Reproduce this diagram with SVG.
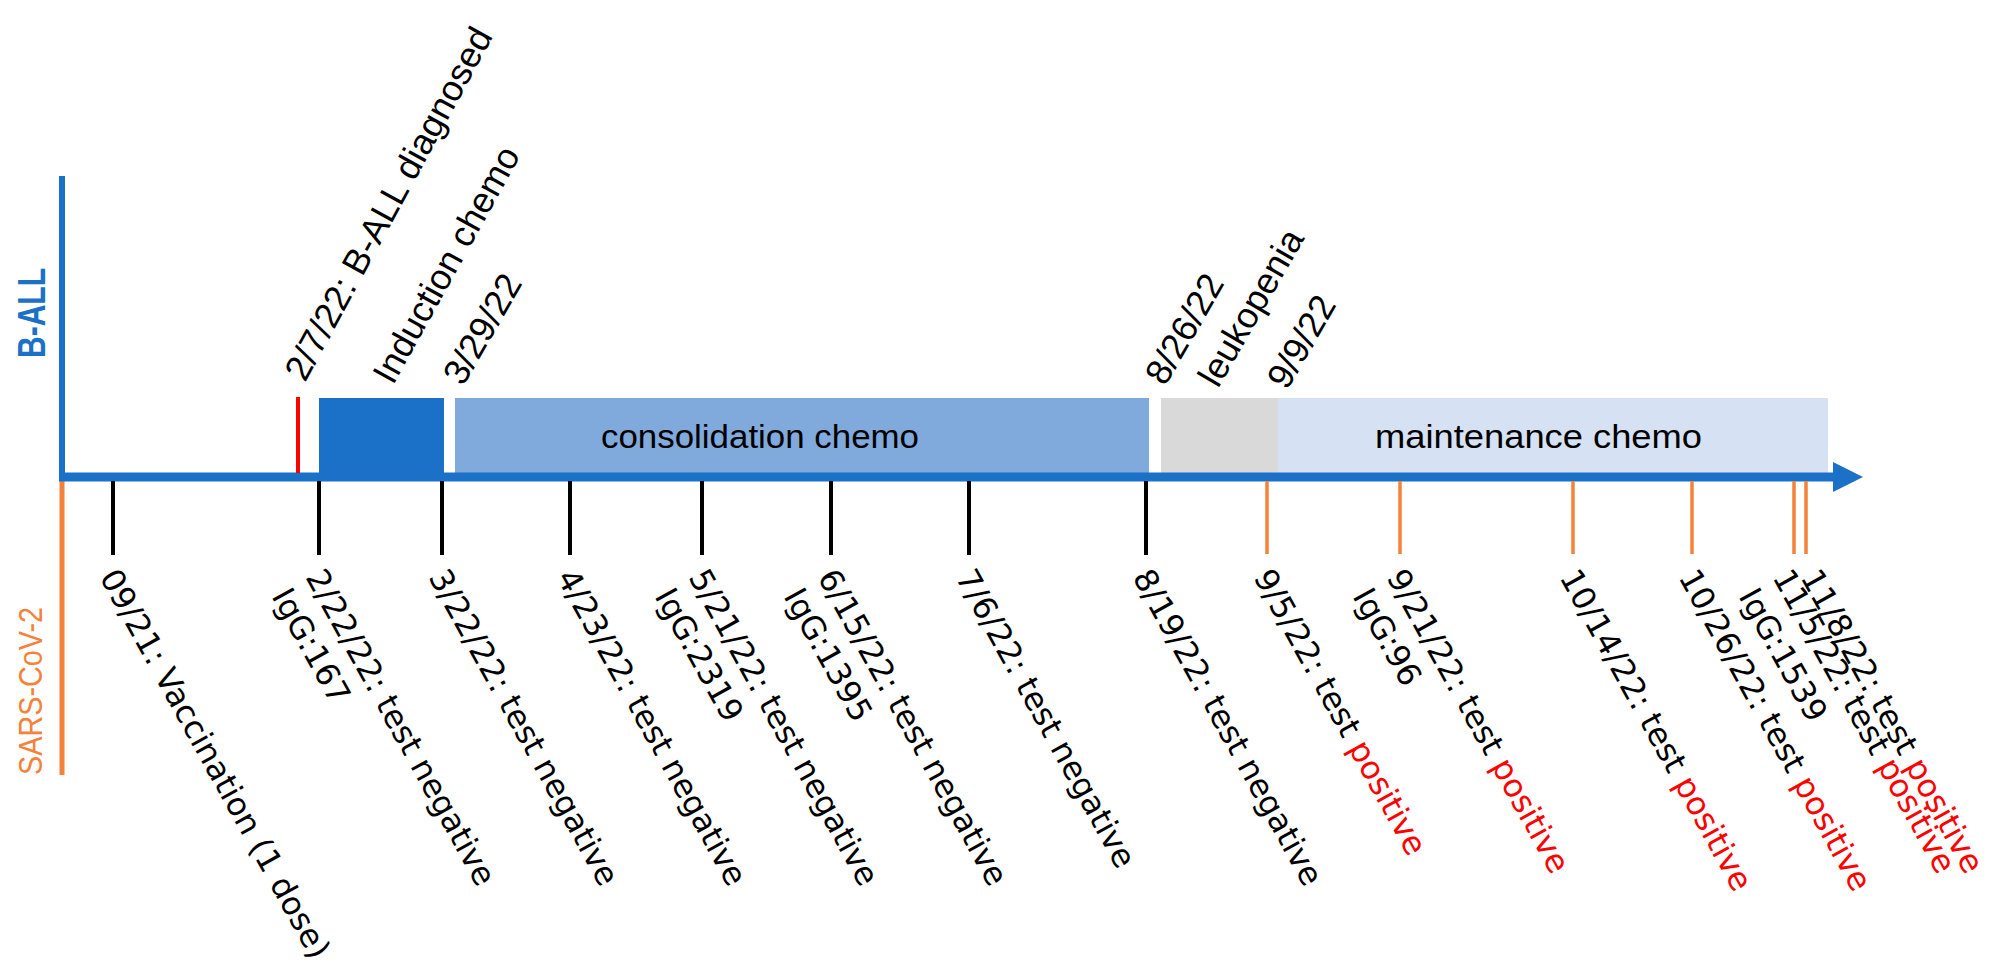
<svg xmlns="http://www.w3.org/2000/svg" width="1992" height="976" viewBox="0 0 1992 976">
<style>
.lo{font-family:"DejaVu Sans",Verdana,sans-serif;font-size:32px;fill:#000}
.pos{fill:#ff0000}
.up{font-family:"Liberation Sans",Arial,sans-serif;font-size:36px;fill:#000}
.bx{font-family:"Liberation Sans",Arial,sans-serif;font-size:34px;fill:#000}
.tk{stroke:#000;stroke-width:4}
.to{stroke:#f4823a;stroke-width:3.5}
</style>
<rect width="1992" height="976" fill="#fff"/>
<!-- phase boxes -->
<g id="induction"><rect x="319" y="398" width="125" height="79" fill="#1a71c7"/></g>
<g id="consolidation"><rect x="455" y="398" width="694" height="79" fill="#80a9dc"/>
<text class="bx" x="601" y="448" textLength="318" lengthAdjust="spacingAndGlyphs">consolidation chemo</text></g>
<g id="leukopenia-box"><rect x="1161" y="398" width="117" height="79" fill="#d9d9d9"/></g>
<g id="maintenance"><rect x="1278" y="398" width="550" height="79" fill="#d6e2f4"/>
<text class="bx" x="1375" y="448" textLength="327" lengthAdjust="spacingAndGlyphs">maintenance chemo</text></g>
<!-- axes -->
<g id="axes">
<line x1="62" y1="176" x2="62" y2="479" stroke="#1a71c7" stroke-width="6"/>
<line x1="62" y1="479" x2="62" y2="775" stroke="#f4823a" stroke-width="5"/>
<line x1="59" y1="477" x2="1836" y2="477" stroke="#1a71c7" stroke-width="9"/>
<polygon points="1833,462 1863,477 1833,492" fill="#1a71c7"/>
<line x1="298" y1="397" x2="298" y2="473" stroke="#ff0000" stroke-width="4"/>
</g>
<g id="axis-labels">
<text transform="translate(45,358) rotate(-90)" font-family="Liberation Sans,Arial,sans-serif" font-weight="bold" font-size="38" fill="#1a71c7" textLength="90" lengthAdjust="spacingAndGlyphs">B-ALL</text>
<text transform="translate(42,775) rotate(-90)" font-family="Liberation Sans,Arial,sans-serif" font-size="34" fill="#f4823a" textLength="168" lengthAdjust="spacingAndGlyphs">SARS-CoV-2</text>
</g>
<!-- tick connectors -->
<g id="ticks">
<line class="tk" x1="113" y1="481" x2="113" y2="555"/>
<line class="tk" x1="319" y1="481" x2="319" y2="555"/>
<line class="tk" x1="442" y1="481" x2="442" y2="555"/>
<line class="tk" x1="570" y1="481" x2="570" y2="555"/>
<line class="tk" x1="702" y1="481" x2="702" y2="555"/>
<line class="tk" x1="831" y1="481" x2="831" y2="555"/>
<line class="tk" x1="969" y1="481" x2="969" y2="555"/>
<line class="tk" x1="1146" y1="481" x2="1146" y2="555"/>
<line class="to" x1="1267" y1="481" x2="1267" y2="554"/>
<line class="to" x1="1400" y1="481" x2="1400" y2="554"/>
<line class="to" x1="1573" y1="481" x2="1573" y2="554"/>
<line class="to" x1="1692" y1="481" x2="1692" y2="554"/>
<line class="to" x1="1794" y1="481" x2="1794" y2="554"/>
<line class="to" x1="1806" y1="481" x2="1806" y2="554"/>
</g>
<!-- upper labels -->
<g id="upper-labels">
<text class="up" transform="translate(305,383) rotate(-61.5)">2/7/22: B-ALL diagnosed</text>
<text class="up" transform="translate(393,386) rotate(-61)">Induction chemo</text>
<text class="up" transform="translate(463,387) rotate(-60)">3/29/22</text>
<text class="up" transform="translate(1165,387) rotate(-60)">8/26/22</text>
<text class="up" transform="translate(1218,389) rotate(-60)">leukopenia</text>
<text class="up" transform="translate(1287,391) rotate(-60)">9/9/22</text>
</g>
<!-- lower labels -->
<g id="ev-0921" transform="translate(99,577) rotate(61)"><text class="lo">09/21: Vaccination (1 dose)</text></g>
<g id="ev-0222" transform="translate(305,577) rotate(61)"><text class="lo">2/22/22: test negative</text><text class="lo" y="39">IgG:167</text></g>
<g id="ev-0322" transform="translate(428,577) rotate(61)"><text class="lo">3/22/22: test negative</text></g>
<g id="ev-0423" transform="translate(556,577) rotate(61)"><text class="lo">4/23/22: test negative</text></g>
<g id="ev-0521" transform="translate(688,577) rotate(61)"><text class="lo">5/21/22: test negative</text><text class="lo" y="39">IgG:2319</text></g>
<g id="ev-0615" transform="translate(817,577) rotate(61)"><text class="lo">6/15/22: test negative</text><text class="lo" y="39">IgG:1395</text></g>
<g id="ev-0706" transform="translate(955,577) rotate(61)"><text class="lo">7/6/22: test negative</text></g>
<g id="ev-0819" transform="translate(1132,577) rotate(61)"><text class="lo">8/19/22: test negative</text></g>
<g id="ev-0905" transform="translate(1253,577) rotate(61)"><text class="lo">9/5/22: test <tspan class="pos">positive</tspan></text></g>
<g id="ev-0921b" transform="translate(1386,577) rotate(61)"><text class="lo">9/21/22: test <tspan class="pos">positive</tspan></text><text class="lo" y="39">IgG:96</text></g>
<g id="ev-1014" transform="translate(1559,577) rotate(61)"><text class="lo">10/14/22: test <tspan class="pos">positive</tspan></text></g>
<g id="ev-1026" transform="translate(1678,577) rotate(61)"><text class="lo">10/26/22: test <tspan class="pos">positive</tspan></text></g>
<g id="ev-1105" transform="translate(1772,577) rotate(61)"><text class="lo">11/5/22: test <tspan class="pos">positive</tspan></text><text class="lo" y="39">IgG:1539</text></g>
<g id="ev-1108" transform="translate(1800,577) rotate(61)"><text class="lo">11/8/22: test <tspan class="pos">positive</tspan></text></g>
</svg>
